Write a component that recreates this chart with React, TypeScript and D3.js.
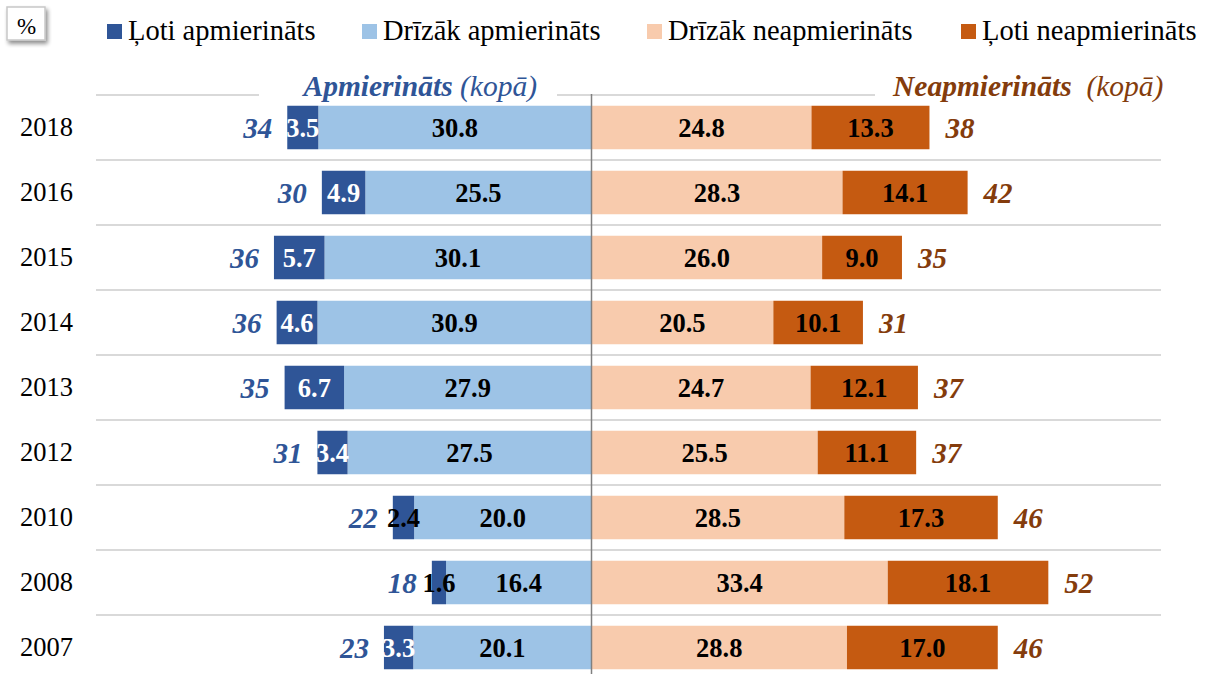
import React from "react";
import * as d3 from "d3";

const years = ["2018", "2016", "2015", "2014", "2013", "2012", "2010", "2008", "2007"];
const veryPositive = [3.5, 4.9, 5.7, 4.6, 6.7, 3.4, 2.4, 1.6, 3.3];
const ratherPositive = [30.8, 25.5, 30.1, 30.9, 27.9, 27.5, 20.0, 16.4, 20.1];
const ratherNegative = [24.8, 28.3, 26.0, 20.5, 24.7, 25.5, 28.5, 33.4, 28.8];
const veryNegative = [13.3, 14.1, 9.0, 10.1, 12.1, 11.1, 17.3, 18.1, 17.0];
const totalPositive = [34, 30, 36, 36, 35, 31, 22, 18, 23];
const totalNegative = [38, 42, 35, 31, 37, 37, 46, 52, 46];
const seriesNames = ["Ļoti apmierināts", "Drīzāk apmierināts", "Drīzāk neapmierināts", "Ļoti neapmierināts"];

const C_DB = "#2f5597";
const C_LB = "#9dc3e6";
const C_PE = "#f8cbad";
const C_OR = "#c55a11";
const C_BROWN = "#843c0c";
const FONT = "Liberation Serif, Times New Roman, DejaVu Serif, serif";

export default function App() {
  const W = 1207, H = 674;
  const x = d3.scaleLinear().domain([-40, 64]).range([236.7, 1159.2]);
  const y = d3.scaleBand<string>().domain(years).range([95, 680]).padding(0);
  const bw = y.bandwidth();
  const barH = 43.5;
  const x0 = x(0);

  const legendItems = [
    { name: seriesNames[0], color: C_DB, sx: 107 },
    { name: seriesNames[1], color: C_LB, sx: 362 },
    { name: seriesNames[2], color: C_PE, sx: 647 },
    { name: seriesNames[3], color: C_OR, sx: 961 },
  ];

  const gridX1 = 96, gridX2 = 1161;
  const ts = { fontFamily: FONT };

  return (
    <svg width={W} height={H} style={{ position: "absolute", left: 0, top: 0, display: "block", background: "#fff", fontFamily: FONT }}>
      <defs>
        <filter id="shadow" x="-30%" y="-30%" width="170%" height="170%">
          <feGaussianBlur in="SourceAlpha" stdDeviation="2" />
          <feOffset dx="2" dy="3" result="ob" />
          <feComponentTransfer><feFuncA type="linear" slope="0.45" /></feComponentTransfer>
          <feMerge><feMergeNode /><feMergeNode in="SourceGraphic" /></feMerge>
        </filter>
      </defs>
      {/* % box */}
      <rect x={7} y={7} width={38} height={33} fill="#fff" stroke="#c8c8c8" strokeWidth={1.5} filter="url(#shadow)" />
      <text style={ts} x={26.5} y={34} textAnchor="middle" fontSize={23} fill="#000">%</text>

      {/* legend */}
      {legendItems.map((d, i) => (
        <g key={i}>
          <rect x={d.sx} y={24} width={15} height={15} fill={d.color} />
          <text style={ts} x={d.sx + 21} y={40} fontSize={28.5} fill="#000">{d.name}</text>
        </g>
      ))}

      {/* gridlines */}
      {years.map((yr, i) => {
        const yy = y(yr)!;
        if (i === 0) {
          return (
            <g key={yr}>
              <line x1={gridX1} x2={259} y1={yy} y2={yy} stroke="#d9d9d9" strokeWidth={2} />
              <line x1={557} x2={875} y1={yy} y2={yy} stroke="#d9d9d9" strokeWidth={2} />
            </g>
          );
        }
        return <line key={yr} x1={gridX1} x2={gridX2} y1={yy} y2={yy} stroke="#d9d9d9" strokeWidth={2} />;
      })}

      {/* section titles */}
      <text style={ts} x={537} y={96} textAnchor="end" fontSize={29.5} fill={C_DB} fontStyle="italic">
        <tspan fontWeight="bold">Apmierināts</tspan>
        <tspan> (kopā)</tspan>
      </text>
      <text style={ts} x={893} y={96} textAnchor="start" fontSize={29.5} fill={C_BROWN} fontStyle="italic">
        <tspan fontWeight="bold">Neapmierināts</tspan>
        <tspan xmlSpace="preserve">  (kopā)</tspan>
      </text>

      {/* bars */}
      {years.map((yr, i) => {
        const cy = y(yr)! + bw / 2;
        const top = cy - barH / 2;
        const lb0 = x(-ratherPositive[i]);
        const db0 = x(-(ratherPositive[i] + veryPositive[i]));
        const pe1 = x(ratherNegative[i]);
        const or1 = x(ratherNegative[i] + veryNegative[i]);
        const dbW = lb0 - db0;
        const dbLabelColor = dbW < 24 ? "#000" : "#fff";
        return (
          <g key={yr}>
            <rect x={lb0} y={top} width={x0 - lb0} height={barH} fill={C_LB} />
            <rect x={db0} y={top} width={dbW} height={barH} fill={C_DB} />
            <rect x={x0} y={top} width={pe1 - x0} height={barH} fill={C_PE} />
            <rect x={pe1} y={top} width={or1 - pe1} height={barH} fill={C_OR} />

            <text style={ts} x={(lb0 + x0) / 2} y={cy + 9.8} textAnchor="middle" fontSize={26.5} fontWeight="bold" fill="#000">{ratherPositive[i].toFixed(1)}</text>
            <text style={ts} x={(db0 + lb0) / 2} y={cy + 9.8} textAnchor="middle" fontSize={26.5} fontWeight="bold" fill={dbLabelColor}>{veryPositive[i].toFixed(1)}</text>
            <text style={ts} x={(x0 + pe1) / 2} y={cy + 9.8} textAnchor="middle" fontSize={26.5} fontWeight="bold" fill="#000">{ratherNegative[i].toFixed(1)}</text>
            <text style={ts} x={(pe1 + or1) / 2} y={cy + 9.8} textAnchor="middle" fontSize={26.5} fontWeight="bold" fill="#000">{veryNegative[i].toFixed(1)}</text>

            <text style={ts} x={db0 - 15} y={cy + 10} textAnchor="end" fontSize={29} fontWeight="bold" fontStyle="italic" fill={C_DB}>{totalPositive[i]}</text>
            <text style={ts} x={or1 + 16} y={cy + 10} textAnchor="start" fontSize={29} fontWeight="bold" fontStyle="italic" fill={C_BROWN}>{totalNegative[i]}</text>

            <text style={ts} x={20} y={cy + 8.5} fontSize={26.5} fill="#000">{yr}</text>
          </g>
        );
      })}

      {/* center line */}
      <line x1={x0} x2={x0} y1={94} y2={H} stroke="#808080" strokeWidth={1.5} />
    </svg>
  );
}
